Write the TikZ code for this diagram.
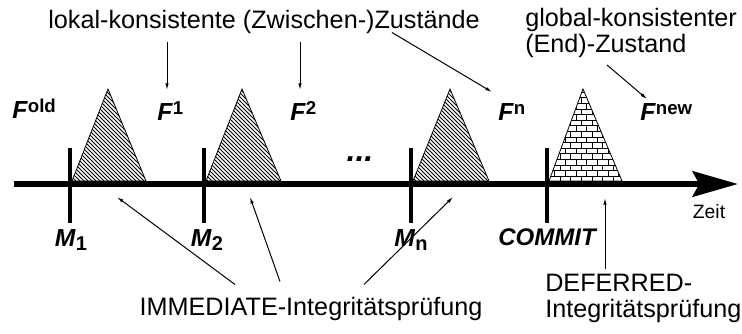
\documentclass[tikz,border=0pt]{standalone}
\usepackage{fontspec}
\setmainfont{Liberation Sans}
\usetikzlibrary{arrows.meta,patterns}

% Schraffur fuer die Zwischenzustaende
\pgfdeclarepatternformonly{schraffur}{\pgfqpoint{-1pt}{-1pt}}{\pgfqpoint{4pt}{4pt}}{\pgfqpoint{3pt}{3pt}}{%
  \pgfsetlinewidth{0.55pt}
  \pgfpathmoveto{\pgfqpoint{0pt}{3pt}}\pgfpathlineto{\pgfqpoint{3.1pt}{-0.1pt}}
  \pgfusepath{stroke}}
% Ziegelmuster fuer den Endzustand
\pgfdeclarepatternformonly{ziegel}{\pgfqpoint{-0.5pt}{-0.5pt}}{\pgfqpoint{8.5pt}{8.9pt}}{\pgfqpoint{8pt}{8.4pt}}{%
  \pgfsetlinewidth{0.6pt}
  \pgfpathmoveto{\pgfqpoint{-0.5pt}{0pt}}\pgfpathlineto{\pgfqpoint{8.5pt}{0pt}}
  \pgfpathmoveto{\pgfqpoint{-0.5pt}{4.2pt}}\pgfpathlineto{\pgfqpoint{8.5pt}{4.2pt}}
  \pgfpathmoveto{\pgfqpoint{0pt}{0pt}}\pgfpathlineto{\pgfqpoint{0pt}{4.2pt}}
  \pgfpathmoveto{\pgfqpoint{4pt}{4.2pt}}\pgfpathlineto{\pgfqpoint{4pt}{8.4pt}}
  \pgfusepath{stroke}}

\newcommand{\Fzust}[1]{\textbf{\textit{F}}\raisebox{4pt}{\fontsize{14}{14}\selectfont\bfseries #1}}
\newcommand{\Mpkt}[1]{\textbf{\textit{M}}\raisebox{-3.5pt}{\fontsize{15}{15}\selectfont\bfseries #1}}

\begin{document}
\begin{tikzpicture}[x=0.75pt,y=0.75pt,yscale=-1,xscale=1,
  txt/.style={inner sep=0.75pt,font=\fontsize{18.9}{19.5}\selectfont},
  zst/.style={inner sep=0.75pt,font=\fontsize{18.5}{18.5}\selectfont},
  pfeil/.style={line width=0.75pt,-{Latex[length=5pt,width=2.6pt]}},
  dreieck/.style={line width=0.6pt,pattern=schraffur},
  strich/.style={line width=3pt},
  zeitachse/.style={line width=4.5pt,-{Stealth[length=34pt,width=19pt,inset=5pt]}}]
\useasboundingbox (0,0) rectangle (742,333);

%Shape: Triangle
\draw [dreieck] (72,181) -- (108,89) -- (146,181) -- cycle ;
%Shape: Triangle
\draw [dreieck] (206,181) -- (242,89) -- (281,181) -- cycle ;
%Shape: Triangle
\draw [dreieck] (413,181) -- (450,89) -- (489,181) -- cycle ;
%Shape: Triangle
\draw [line width=0.6pt,pattern=ziegel] (549,181) -- (583,89) -- (622,181) -- cycle ;

%Zeitachse
\coordinate (ta) at (14,184);
\coordinate (te) at (738,184);
\draw [zeitachse] (ta) -- (te);
%Striche
\draw [strich] (70,148) -- (70,223);
\draw [strich] (204,148) -- (204,223);
\draw [strich] (411,148) -- (411,223);
\draw [strich] (547,148) -- (547,223);

% Text Node
\draw (264,28) node [txt,anchor=base] (lok) {lokal-konsistente (Zwischen-)Zustände};
% Text Node
\draw (524,7) node [txt,anchor=north west,align=left] (glob) {global-konsistenter\\(End)-Zustand};
% Text Node
\draw (11,118) node [zst,anchor=base west] (fold) {\Fzust{old}};
% Text Node
\draw (156,120) node [zst,anchor=base west] (f1) {\Fzust{1}};
% Text Node
\draw (289,120) node [zst,anchor=base west] (f2) {\Fzust{2}};
% Text Node
\draw (497,120) node [zst,anchor=base west] (fn) {\Fzust{n}};
% Text Node
\draw (639,120) node [zst,anchor=base west] (fnew) {\Fzust{new}};
% Text Node
\draw (360,161) node [inner sep=0.75pt,anchor=base,font=\fontsize{24}{24}\selectfont\bfseries\itshape] (pkte) {...};
% Text Node
\draw (71,246) node [zst,anchor=base] (m1) {\Mpkt{1}};
% Text Node
\draw (207,246) node [zst,anchor=base] (m2) {\Mpkt{2}};
% Text Node
\draw (411,246) node [zst,anchor=base] (mn) {\Mpkt{n}};
% Text Node
\draw (547,245) node [zst,anchor=base,font=\fontsize{18}{18}\selectfont\bfseries\itshape] (com) {COMMIT};
% Text Node
\draw (709,218) node [inner sep=0.75pt,anchor=base,font=\fontsize{14.5}{14.5}\selectfont] (zeit) {Zeit};
% Text Node
\draw (311,315) node [txt,anchor=base] (imm) {IMMEDIATE-Integritätsprüfung};
% Text Node
\draw (544,273) node [txt,anchor=north west,align=left] (def) {DEFERRED-\\Integritätsprüfung};

% Pfeilspitzen
\coordinate (pf1) at (167,90);
\coordinate (pf2) at (300,90);
\coordinate (pfn) at (492,92);
\coordinate (pfnew) at (647,99);
\coordinate (pm1) at (117,197);
\coordinate (pm2) at (250,197);
\coordinate (pmn) at (453,197);
\coordinate (pcom) at (605,198);

\draw [pfeil] ([shift={(-97,8)}]lok.south) -- (pf1);
\draw [pfeil] ([shift={(36,8)}]lok.south) -- (pf2);
\draw [pfeil] ([shift={(128,-2)}]lok.south) -- (pfn);
\draw [pfeil] ([shift={(83,6)}]glob.south west) -- (pfnew);
\draw [pfeil] ([shift={(-76,-11)}]imm.north) -- (pm1);
\draw [pfeil] ([shift={(-31,-14)}]imm.north) -- (pm2);
\draw [pfeil] ([shift={(53,-11)}]imm.north) -- (pmn);
\draw [pfeil] ([shift={(61,-4)}]def.north west) -- (pcom);

\end{tikzpicture}
\end{document}
